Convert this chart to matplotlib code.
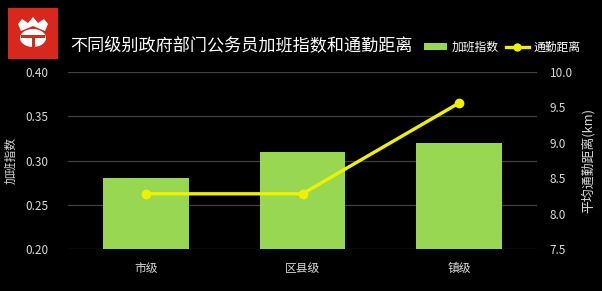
import matplotlib
matplotlib.use("Agg")
import matplotlib.pyplot as plt
from matplotlib.patches import Rectangle, Polygon, Ellipse
from matplotlib.lines import Line2D

plt.rcParams['font.family'] = ['Noto Sans CJK SC', 'DejaVu Sans']

# Data
levels = ['市级', '区县级', '镇级']
overtime_index = [0.28, 0.31, 0.32]
commute_km = [8.28, 8.28, 9.56]

title = '不同级别政府部门公务员加班指数和通勤距离'
left_label = '加班指数'
right_label = '平均通勤距离(km)'
bar_name = '加班指数'
line_name = '通勤距离'

left_ticks = [0.20, 0.25, 0.30, 0.35, 0.40]
right_ticks = [7.5, 8.0, 8.5, 9.0, 9.5, 10.0]

BG = '#000000'
GREEN = '#98d752'
YELLOW = '#eef200'
TXT = '#d9d9d9'
GRID = '#404040'

fig = plt.figure(figsize=(6.02, 2.91), dpi=100, facecolor=BG)
ax = fig.add_axes([0.113, 0.1443, 0.779, 0.6083], facecolor=BG)
x = list(range(len(levels)))

ax.bar(x, overtime_index, width=0.55, color=GREEN, zorder=2)
ax.set_xlim(-0.5, len(levels) - 0.5)
ax.set_ylim(0.20, 0.40)
ax.set_yticks(left_ticks)
ax.set_yticklabels([f'{v:.2f}' for v in left_ticks])
ax.set_xticks(x)
ax.set_xticklabels(levels)
ax.grid(axis='y', color=GRID, linewidth=0.9, zorder=0)
ax.tick_params(axis='y', length=0, pad=14, labelsize=8.5, labelcolor=TXT)
ax.tick_params(axis='x', length=0, pad=9, labelsize=8.5, labelcolor=TXT)
for s in ax.spines.values():
    s.set_visible(False)
ax.set_ylabel(left_label, color=TXT, fontsize=8.5, labelpad=6)

ax2 = ax.twinx()
ax2.plot(x, commute_km, color=YELLOW, linewidth=2.4, marker='o',
         markersize=6, markerfacecolor=YELLOW, markeredgecolor=YELLOW, zorder=3)
ax2.set_ylim(7.5, 10.0)
ax2.set_yticks(right_ticks)
ax2.set_yticklabels([f'{v:.1f}' for v in right_ticks])
ax2.tick_params(axis='y', length=0, pad=9, labelsize=8.5, labelcolor=TXT)
for s in ax2.spines.values():
    s.set_visible(False)
ax2.set_ylabel(right_label, color=TXT, fontsize=9.3, labelpad=6)

# Title
fig.text(0.116, 0.845, title, color='white', fontsize=12.3, va='center', ha='left')

# Legend
handles = [Rectangle((0, 0), 1, 1, facecolor=GREEN, edgecolor='none'),
           Line2D([0], [0], color=YELLOW, linewidth=2.4, marker='o',
                  markersize=5, markerfacecolor=YELLOW)]
leg = fig.legend(handles, [bar_name, line_name], loc='center left',
                 bbox_to_anchor=(0.704, 0.838), ncol=2, frameon=False,
                 fontsize=8.5, labelcolor='white', handlelength=2.0,
                 handleheight=0.6, handletextpad=0.35, columnspacing=0.6,
                 borderpad=0, borderaxespad=0)

# Logo badge
lax = fig.add_axes([8 / 602, 1 - 59 / 291, 50 / 602, 51 / 291])
lax.set_xlim(0, 50)
lax.set_ylim(0, 51)
lax.axis('off')
lax.add_patch(Rectangle((0, 0), 50, 51, facecolor='#d8281d', edgecolor='none'))
lax.add_patch(Polygon([(10, 35), (14, 40), (20, 36), (25, 42), (30, 36), (36, 40),
                       (40, 35), (37, 28), (25, 33), (13, 28)],
                      closed=True, facecolor='white', edgecolor='none'))
lax.add_patch(Ellipse((25, 21), 26, 18, facecolor='white', edgecolor='none'))
lax.add_patch(Rectangle((13, 21), 24, 3, facecolor='#d8281d', edgecolor='none'))
lax.add_patch(Rectangle((23.5, 11), 3, 10, facecolor='#d8281d', edgecolor='none'))

fig.savefig('out.png', dpi=100, facecolor=BG)
